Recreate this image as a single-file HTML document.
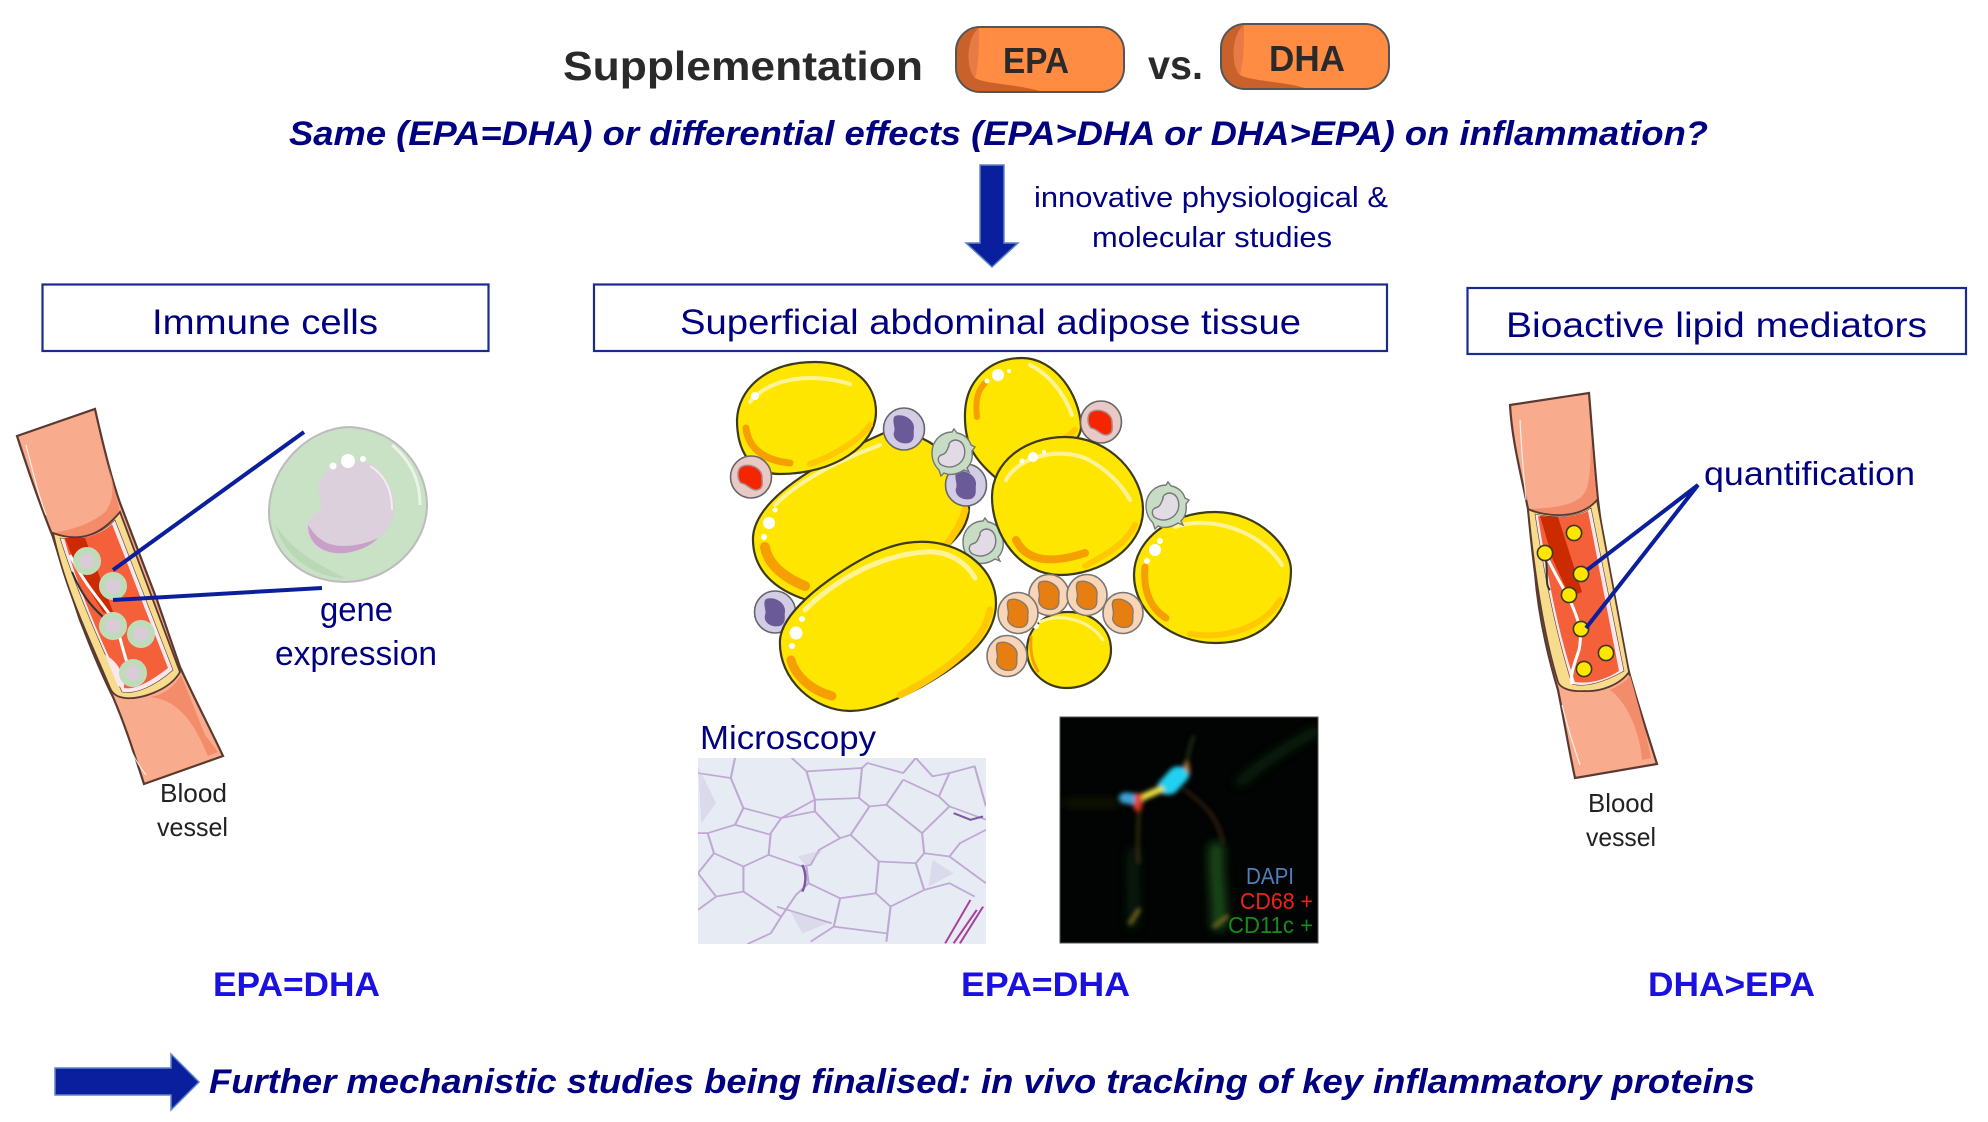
<!DOCTYPE html>
<html lang="en">
<head>
<meta charset="utf-8">
<title>Supplementation EPA vs. DHA</title>
<style>
html,body{margin:0;padding:0;background:#fff;width:1988px;height:1122px;overflow:hidden}
svg{display:block}
text{font-family:"Liberation Sans",sans-serif}
.n{fill:#000080}
.b{font-weight:bold}
.bi{font-weight:bold;font-style:italic;fill:#000080}
.k{fill:#222}
.ye{fill:#ffe600;stroke:#3c3a18;stroke-width:2.2}
.or{fill:none;stroke:#f59f00;stroke-linecap:round}
.dk{fill:none;stroke:#ffc800;stroke-linecap:round}
.hi{fill:none;stroke:#fff39a;stroke-linecap:round}
.w{fill:#fff}
</style>
</head>
<body>
<svg xmlns="http://www.w3.org/2000/svg" width="1988" height="1122" viewBox="0 0 1988 1122">
<defs>
  <filter id="bl" x="-80%" y="-80%" width="260%" height="260%"><feGaussianBlur stdDeviation="6"/></filter>
  <filter id="bl2" x="-80%" y="-80%" width="260%" height="260%"><feGaussianBlur stdDeviation="14"/></filter>
  <g id="pur"><ellipse rx="20.5" ry="21" fill="#d2cde5" stroke="#666" stroke-width="1.6"/><path d="M-9,-13 C0,-16 11,-9 10,0 C9,4 12,11 5,14 C-4,16 -12,10 -10,3 C-8,-1 -13,-9 -9,-13Z" fill="#6b5a98"/></g>
  <g id="red"><ellipse rx="20.5" ry="21" fill="#e9c9c5" stroke="#666" stroke-width="1.6"/><path d="M-10,-10 C-2,-15 11,-9 11,0 C11,6 13,12 5,13 C-1,13 -3,7 -10,6 C-14,2 -14,-7 -10,-10Z" fill="#f52500" stroke="#a88" stroke-width="1.5"/></g>
  <g id="org"><ellipse rx="20" ry="20.5" fill="#f9d5b8" stroke="#777" stroke-width="1.6"/><path d="M-9,-13 C0,-16 11,-9 10,0 C9,4 12,11 5,14 C-4,16 -12,10 -10,3 C-8,-1 -13,-9 -9,-13Z" fill="#e77e12" stroke="#8a7a6a" stroke-width="1.4"/></g>
  <g id="grn"><path d="M-20,0 C-20,-13 -10,-21 0,-21 L2,-24 L5,-20 C12,-19 17,-14 19,-8 L23,-6 L20,-2 C21,5 19,11 15,15 L17,19 L12,17 C6,21 -2,23 -8,20 L-11,23 L-13,17 C-17,13 -20,7 -20,0Z" fill="#c6dcc5" stroke="#777" stroke-width="1.4"/><path d="M4,-13 C12,-12 14,-3 12,4 C9,12 0,16 -8,13 C-15,11 -15,4 -11,2 C-5,1 -5,-4 -3,-7 C-4,-10 0,-13 4,-13Z" fill="#e2dbe6" stroke="#777" stroke-width="1.4"/></g>
  <g id="cell"><circle r="13.5" fill="#bfdcb8" stroke="#c8d8c0" stroke-width="1"/><circle r="7.5" fill="#d9ccd8"/></g>
  <g id="dot"><circle r="7.6" fill="#ffe600" stroke="#3c3a18" stroke-width="1.6"/></g>
</defs>

<rect width="1988" height="1122" fill="#fff"/>

<!-- header -->
<text x="563" y="80" font-size="41" class="b" fill="#2a2a2a" textLength="360" lengthAdjust="spacingAndGlyphs">Supplementation</text>
<rect x="956" y="27" width="168" height="65" rx="24" fill="#ff8c42"/>
<rect x="1221" y="24" width="168" height="65" rx="24" fill="#ff8c42"/>
<path d="M979,28 C962,30 956,40 956,55 V65 C956,82 965,91 980,91 C1000,92 1020,92 1040,91 C1015,84 985,84 975,78 C966,70 966,38 979,28Z" fill="#c9622a"/>
<path d="M979,28 C966,38 966,70 975,78 C979,65 979,42 979,28Z" fill="#e87a48"/>
<path d="M1244,25 C1227,27 1221,37 1221,52 V62 C1221,79 1230,88 1245,88 C1265,89 1285,89 1305,88 C1280,81 1250,81 1240,75 C1231,67 1231,35 1244,25Z" fill="#c9622a"/>
<path d="M1244,25 C1231,35 1231,67 1240,75 C1244,62 1244,39 1244,25Z" fill="#e87a48"/>
<rect x="956" y="27" width="168" height="65" rx="24" fill="none" stroke="#555" stroke-width="2"/>
<rect x="1221" y="24" width="168" height="65" rx="24" fill="none" stroke="#555" stroke-width="2"/>
<text x="1003" y="73" font-size="36" class="b" fill="#2a2a2a" textLength="66" lengthAdjust="spacingAndGlyphs">EPA</text>
<text x="1269" y="71" font-size="36" class="b" fill="#2a2a2a" textLength="76" lengthAdjust="spacingAndGlyphs">DHA</text>
<text x="1148" y="79" font-size="41" class="b" fill="#2a2a2a" textLength="55" lengthAdjust="spacingAndGlyphs">vs.</text>

<text x="289" y="145" font-size="34" class="bi" textLength="1419" lengthAdjust="spacingAndGlyphs">Same (EPA=DHA) or differential effects (EPA&gt;DHA or DHA&gt;EPA) on inflammation?</text>

<path d="M980,165 H1004 V243 H1018 L992,267 L966,243 H980Z" fill="#0a1f9e" stroke="#5f86c4" stroke-width="1.5"/>
<text x="1034" y="207" font-size="29" class="n" textLength="354" lengthAdjust="spacingAndGlyphs">innovative physiological &amp;</text>
<text x="1092" y="247" font-size="29" class="n" textLength="240" lengthAdjust="spacingAndGlyphs">molecular studies</text>

<!-- title boxes -->
<g fill="none" stroke="#1a2a90" stroke-width="2.2">
  <rect x="42.5" y="284.5" width="446" height="66.5"/>
  <rect x="594" y="284.5" width="793" height="66.5"/>
  <rect x="1467.5" y="288" width="498.5" height="66"/>
</g>
<text x="152" y="334" font-size="35" class="n" textLength="226" lengthAdjust="spacingAndGlyphs">Immune cells</text>
<text x="680" y="334" font-size="35" class="n" textLength="621" lengthAdjust="spacingAndGlyphs">Superficial abdominal adipose tissue</text>
<text x="1506" y="337" font-size="35" class="n" textLength="421" lengthAdjust="spacingAndGlyphs">Bioactive lipid mediators</text>

<!-- left vessel -->
<path d="M17,436 L95,409 C103,445 112,480 120,503 L157,600 L180,667 C195,700 210,728 223,756 L144,784 C133,750 125,725 113,697 C97,665 88,640 80,620 C70,590 60,560 53,537 C40,505 28,470 17,436Z" fill="#f9ab8e" stroke="#5a3a30" stroke-width="2.2"/>
<path d="M53,533 C85,545 110,530 120,512 L100,430 C112,480 118,495 105,512 C90,525 70,530 53,533Z" fill="#f28c6a"/>
<path d="M150,697 C165,695 175,685 181,675 L205,735 L218,752 L208,756 C195,725 180,700 150,697Z" fill="#f28c6a"/>
<path d="M53,533 C85,545 105,530 120,512 L180,672 C170,690 140,700 125,698 C118,697 113,695 110,688 C90,640 65,590 53,533Z" fill="#f6dc8c" stroke="#5a3a30" stroke-width="1.8"/>
<path d="M60,538 C80,541 100,535 115,520 L173,670 C155,686 135,695 122,692 C103,650 78,595 60,538Z" fill="#fbe8ee" stroke="#5a3a30" stroke-width=".6"/>
<path d="M64,538 C80,541 100,535 112,524 L168,668 C150,682 135,690 124,688 C105,650 80,595 64,538Z" fill="#f4603a"/>
<path d="M65,538 L85,538 L115,617 L103,612 L78,572Z" fill="#cc2a00"/>
<path d="M70,555 C85,585 100,600 110,615 C120,630 122,650 128,665" fill="none" stroke="#fff" stroke-width="3"/>
<path d="M72,572 C82,595 90,605 103,617" fill="none" stroke="#333" stroke-width="2"/>
<path d="M105,655 L118,686 L124,688 C125,675 117,660 105,655" fill="#fbe8ee"/>
<use href="#cell" x="87" y="561"/><use href="#cell" x="113" y="586"/><use href="#cell" x="113" y="626"/><use href="#cell" x="141" y="634"/><use href="#cell" x="133" y="673"/>
<path d="M26,445 C35,480 40,500 46,515" fill="none" stroke="#fff" stroke-width="1.2" opacity=".8"/>
<path d="M118,725 C130,750 138,765 146,775" fill="none" stroke="#fff" stroke-width="1.2" opacity=".8"/>
<line x1="113" y1="570" x2="304" y2="432" stroke="#0b1f9c" stroke-width="4"/>
<line x1="113" y1="600" x2="322" y2="588" stroke="#0b1f9c" stroke-width="4"/>

<!-- big immune cell -->
<path d="M269,510 C270,465 310,427 350,427 C400,430 427,470 427,505 C427,545 390,582 345,582 C300,582 268,550 269,510Z" fill="#c9e1c5" stroke="#bcbcbc" stroke-width="2"/>
<path d="M276,525 C282,555 315,578 345,578 C320,565 290,550 276,525Z" fill="#bad8b6"/>
<path d="M392,445 C410,460 420,480 420,505" fill="none" stroke="#eaf4e6" stroke-width="3"/>
<path d="M322,477 C328,465 345,461 363,462 C380,465 393,485 395,507 C395,520 388,530 380,537 C368,546 358,552 347,553 C330,555 312,552 307,530 C305,515 325,510 322,507 C318,495 318,485 322,477Z" fill="#dcd0dc"/>
<path d="M308,525 C308,545 325,555 345,553 C360,551 372,545 378,538 C362,546 335,550 322,540 C314,535 312,530 308,525Z" fill="#c9a0c8"/>
<path d="M370,466 C385,475 392,490 392,510" fill="none" stroke="#f3ecf3" stroke-width="2"/>
<circle cx="348" cy="461" r="7" class="w"/><circle cx="333" cy="466" r="3.5" class="w"/><circle cx="363" cy="459" r="3" class="w"/>

<text x="320" y="621" font-size="34" class="n" textLength="73" lengthAdjust="spacingAndGlyphs">gene</text>
<text x="275" y="665" font-size="34" class="n" textLength="162" lengthAdjust="spacingAndGlyphs">expression</text>
<text x="160" y="802" font-size="26" class="k" textLength="67" lengthAdjust="spacingAndGlyphs">Blood</text>
<text x="157" y="836" font-size="26" class="k" textLength="71" lengthAdjust="spacingAndGlyphs">vessel</text>

<!-- adipose cluster -->
<path d="M965,413 C966,380 990,358 1022,358 C1055,358 1080,395 1081,427 C1081,450 1030,470 996,478 C975,460 964,445 965,413Z" class="ye"/>
<path d="M977,417 C975,400 978,390 985,383" class="or" stroke-width="6"/>
<path d="M1075,430 C1060,445 1030,455 1000,470" class="dk" stroke-width="6"/>
<path d="M1030,365 C1050,375 1065,395 1072,415" class="hi" stroke-width="4"/>
<circle cx="998" cy="375" r="6" class="w"/><circle cx="987" cy="381" r="2.5" class="w"/><circle cx="1009" cy="371" r="2" class="w"/>

<path d="M753,537 C755,505 800,470 884,433 C925,425 969,465 969,507 C969,540 930,560 900,575 L807,600 C775,590 752,570 753,537Z" class="ye"/>
<path d="M765,547 C768,565 785,578 805,586" class="or" stroke-width="10"/>
<path d="M775,505 C800,480 840,460 880,445" class="hi" stroke-width="4"/>
<path d="M965,510 C960,530 940,555 925,565" class="dk" stroke-width="7"/>
<circle cx="769" cy="523" r="6" class="w"/><circle cx="764" cy="537" r="3" class="w"/><circle cx="775" cy="510" r="2.5" class="w"/>

<use href="#pur" x="904" y="429"/>
<use href="#pur" x="966" y="485"/>
<use href="#grn" x="952" y="453"/>
<use href="#pur" x="775" y="612"/>
<use href="#grn" x="983" y="542"/>
<use href="#red" x="1101" y="422"/>

<path d="M737,420 C738,390 765,362 815,362 C855,362 876,385 876,412 C876,445 835,474 780,474 C750,474 737,450 737,420Z" class="ye"/>
<path d="M746,428 C748,445 760,460 790,463" class="or" stroke-width="7"/>
<path d="M750,402 C770,378 810,372 850,384" class="hi" stroke-width="4"/>
<path d="M870,425 C860,440 835,455 810,464" class="dk" stroke-width="6"/>
<circle cx="755" cy="396" r="4" class="w"/>

<path d="M780,640 C782,610 835,572 874,553 C900,542 915,541 929,542 C965,545 996,570 996,603 C996,640 960,665 921,687 C890,703 870,711 850,711 C815,711 778,680 780,640Z" class="ye"/>
<path d="M791,660 C795,675 810,690 832,696" class="or" stroke-width="9"/>
<path d="M805,610 C835,580 880,555 925,552 C950,550 968,565 975,578" class="hi" stroke-width="5"/>
<path d="M990,610 C985,640 950,670 900,695" class="dk" stroke-width="7"/>
<circle cx="796" cy="633" r="6.5" class="w"/><circle cx="792" cy="646" r="3" class="w"/><circle cx="802" cy="619" r="3" class="w"/>

<path d="M992,497 C992,462 1025,437 1065,437 C1110,437 1143,475 1143,510 C1143,548 1100,575 1060,575 C1020,575 992,535 992,497Z" class="ye"/>
<path d="M1016,540 C1025,558 1045,566 1085,553" class="or" stroke-width="8"/>
<path d="M1006,480 C1020,455 1060,448 1085,458 C1110,470 1125,490 1130,500" class="hi" stroke-width="4"/>
<path d="M1135,525 C1125,545 1105,555 1085,566" class="dk" stroke-width="6"/>
<circle cx="1033" cy="457" r="5" class="w"/><circle cx="1022" cy="461" r="2.5" class="w"/><circle cx="1044" cy="452" r="2" class="w"/>

<path d="M1134,575 C1134,540 1170,512 1215,512 C1260,512 1291,548 1291,570 C1291,610 1265,643 1215,643 C1175,643 1134,615 1134,575Z" class="ye"/>
<path d="M1145,567 C1143,590 1150,608 1166,618" class="or" stroke-width="7"/>
<path d="M1175,527 C1210,515 1260,530 1282,565" class="hi" stroke-width="4"/>
<path d="M1190,634 C1230,640 1265,625 1280,600" class="dk" stroke-width="6"/>
<circle cx="1155" cy="550" r="6" class="w"/><circle cx="1147" cy="561" r="3" class="w"/><circle cx="1160" cy="541" r="3" class="w"/>

<path d="M1027,650 C1027,628 1045,612 1068,612 C1095,612 1111,630 1111,650 C1111,672 1090,688 1066,688 C1045,688 1026,670 1027,650Z" class="ye"/>
<path d="M1031,637 C1030,650 1032,662 1038,671" class="or" stroke-width="3"/>
<path d="M1040,622 C1060,612 1090,620 1103,640" class="hi" stroke-width="3"/>
<circle cx="1036" cy="626" r="3" class="w"/>

<use href="#red" x="751" y="477"/>
<use href="#grn" x="1166" y="506"/>
<use href="#org" x="1049" y="595"/><use href="#org" x="1087" y="595"/><use href="#org" x="1018" y="613"/><use href="#org" x="1123" y="613"/><use href="#org" x="1007" y="656"/>

<!-- microscopy -->
<text x="700" y="749" font-size="33" class="n" textLength="176" lengthAdjust="spacingAndGlyphs">Microscopy</text>
<rect x="698" y="758" width="288" height="186" fill="#e6ebf4"/>
<svg x="698" y="758" width="288" height="186" viewBox="42 145 685 557" preserveAspectRatio="none">
  <g fill="none" stroke="#bfa8d2" stroke-width="5" stroke-linejoin="round">
    <polyline points="130,145 120,205 150,295 240,325 320,270 300,185 265,145"/>
    <polyline points="120,205 42,190"/>
    <polyline points="150,295 130,345 65,370 42,370"/>
    <polyline points="300,185 432,175 425,265 320,270"/>
    <polyline points="432,175 445,160 530,190 560,145"/>
    <polyline points="425,265 450,290 490,285 530,210"/>
    <polyline points="320,270 320,305 240,325"/>
    <polyline points="320,305 380,385 405,375 450,290"/>
    <polyline points="240,325 215,370 210,435 150,470 80,430 65,370"/>
    <polyline points="130,345 215,375"/>
    <polyline points="380,385 330,420 310,465 290,470 210,435"/>
    <polyline points="405,375 472,455 465,550 380,565 305,520 300,470"/>
    <polyline points="490,285 575,370 580,430 560,460 472,455"/>
    <polyline points="575,370 640,290 615,260 530,210"/>
    <polyline points="580,430 640,440 665,400 727,360"/>
    <polyline points="150,470 150,545 85,560 42,490 80,430"/>
    <polyline points="150,545 240,620 215,670 160,702"/>
    <polyline points="85,560 42,600"/>
    <polyline points="240,620 275,555 305,520"/>
    <polyline points="380,565 365,650 310,695"/>
    <polyline points="560,460 580,540 500,590 465,550"/>
    <polyline points="500,590 490,695"/>
    <polyline points="640,440 727,520"/>
    <polyline points="580,540 640,520 700,560"/>
    <polyline points="615,260 640,190 700,170 727,290"/>
    <polyline points="560,145 600,200 640,190"/>
    <polyline points="640,290 727,330"/>
    <polyline points="230,590 360,640"/>
    <polyline points="365,650 490,670"/>
  </g>
  <path d="M42,170 L85,280 L50,340Z M600,450 L650,490 L590,530Z M260,600 L350,640 L290,670Z M340,420 L300,470 L280,440Z" fill="#cfc6de" opacity=".45"/>
  <g fill="none" stroke="#7c5aa0" stroke-width="6">
    <path d="M290,465 C300,490 300,520 290,545"/>
    <path d="M650,310 L690,330 L720,320"/>
  </g>
  <g fill="none" stroke="#a8409a" stroke-width="5">
    <path d="M690,570 L630,700"/><path d="M720,590 L665,700"/><path d="M705,600 L650,700"/>
  </g>
</svg>

<!-- fluorescence -->
<rect x="1060" y="717" width="258" height="226" fill="#020403" stroke="#555" stroke-width="1"/>
<svg x="1060" y="717" width="258" height="226" viewBox="903 22 613 678" preserveAspectRatio="none">
  <g filter="url(#bl2)" fill="none" stroke-linecap="round">
    <path d="M1275,410 C1270,500 1285,580 1280,650" stroke="#2a7a2a" stroke-width="26" opacity=".8"/>
    <path d="M1080,420 C1070,500 1085,580 1075,650" stroke="#1e4a24" stroke-width="14" opacity=".7"/>
    <path d="M1330,220 C1400,140 1460,100 1516,60" stroke="#174a1c" stroke-width="16" opacity=".7"/>
    <path d="M920,280 L1040,280" stroke="#3a4a18" stroke-width="12" opacity=".6"/>
  </g>
  <g filter="url(#bl)" fill="none" stroke-linecap="round">
    <path d="M1090,300 C1090,360 1085,400 1090,460" stroke="#4a3a18" stroke-width="6"/>
    <path d="M1200,240 C1240,280 1280,320 1290,400" stroke="#4a2a14" stroke-width="6"/>
    <path d="M1205,160 C1208,120 1215,100 1220,80" stroke="#304a20" stroke-width="5"/>
    <path d="M1070,640 L1090,600 M1270,650 L1300,620" stroke="#7a6a20" stroke-width="10"/>
    <path d="M1060,265 L1085,270" stroke="#3aa0d8" stroke-width="34"/>
    <path d="M1160,230 L1185,195" stroke="#24d0f0" stroke-width="50"/>
    <path d="M1095,265 L1140,240" stroke="#e8e040" stroke-width="20"/>
    <path d="M1090,260 L1088,295" stroke="#e83818" stroke-width="18"/>
    <path d="M1203,160 L1207,185" stroke="#c08030" stroke-width="10"/>
  </g>
</svg>
<text x="1246" y="884" font-size="23" fill="#4f7fbd" textLength="48" lengthAdjust="spacingAndGlyphs">DAPI</text>
<text x="1240" y="909" font-size="23" fill="#ee2418" textLength="73" lengthAdjust="spacingAndGlyphs">CD68 +</text>
<text x="1228" y="933" font-size="23" fill="#1a8a1a" textLength="85" lengthAdjust="spacingAndGlyphs">CD11c +</text>

<!-- right vessel -->
<path d="M1510,405 L1589,393 C1592,430 1595,470 1598,500 C1605,560 1617,620 1629,672 C1638,705 1648,735 1657,764 L1575,778 C1568,745 1565,725 1558,690 C1546,650 1538,610 1535,573 C1532,550 1530,530 1528,509 C1520,470 1512,440 1510,405Z" fill="#f9ab8e" stroke="#5a3a30" stroke-width="2.2"/>
<path d="M1528,509 C1560,520 1585,515 1597,500 L1591,440 C1590,475 1590,490 1580,498 C1565,508 1545,508 1528,509Z" fill="#f28c6a"/>
<path d="M1610,690 C1620,685 1628,680 1630,675 L1645,730 L1651,758 L1642,760 C1640,730 1625,700 1610,690Z" fill="#f28c6a"/>
<path d="M1528,509 C1545,517 1580,520 1597,500 L1629,672 C1620,685 1600,692 1585,691 C1570,692 1560,688 1558,682 C1545,640 1535,580 1528,509Z" fill="#f6dc8c" stroke="#5a3a30" stroke-width="1.8"/>
<path d="M1535,514 C1550,518 1578,518 1591,508 L1624,671 C1605,682 1585,688 1572,684 C1558,640 1545,580 1535,514Z" fill="#fbe8ee" stroke="#5a3a30" stroke-width=".6"/>
<path d="M1538,516 C1550,518 1575,518 1588,511 L1619,671 C1605,680 1590,684 1575,682 C1560,640 1548,580 1538,516Z" fill="#f4603a"/>
<path d="M1540,516 L1558,517 L1582,592 L1570,597 L1553,560Z" fill="#cc2a00"/>
<path d="M1545,553 C1555,575 1565,590 1572,605 C1578,620 1583,630 1579,650 C1574,665 1570,675 1572,684" fill="none" stroke="#fff" stroke-width="3"/>
<path d="M1546,560 C1548,575 1545,585 1550,590" fill="none" stroke="#333" stroke-width="2"/>
<use href="#dot" x="1574" y="533"/><use href="#dot" x="1545" y="553"/><use href="#dot" x="1581" y="574"/><use href="#dot" x="1569" y="595"/><use href="#dot" x="1581" y="629"/><use href="#dot" x="1606" y="653"/><use href="#dot" x="1584" y="669"/>
<path d="M1520,420 C1522,460 1524,480 1526,500" fill="none" stroke="#fff" stroke-width="1.2" opacity=".8"/>
<path d="M1562,705 C1568,730 1575,750 1580,765" fill="none" stroke="#fff" stroke-width="1.2" opacity=".8"/>
<path d="M1587,570 L1698,485 L1586,628" fill="none" stroke="#0b1f9c" stroke-width="4" stroke-linejoin="miter"/>
<text x="1704" y="485" font-size="33" class="n" textLength="211" lengthAdjust="spacingAndGlyphs">quantification</text>
<text x="1588" y="812" font-size="26" class="k" textLength="66" lengthAdjust="spacingAndGlyphs">Blood</text>
<text x="1586" y="846" font-size="26" class="k" textLength="70" lengthAdjust="spacingAndGlyphs">vessel</text>

<!-- results -->
<g class="b" font-size="34" fill="#1a10e0">
  <text x="213" y="996" textLength="167" lengthAdjust="spacingAndGlyphs">EPA=DHA</text>
  <text x="961" y="996" textLength="169" lengthAdjust="spacingAndGlyphs">EPA=DHA</text>
  <text x="1648" y="996" textLength="167" lengthAdjust="spacingAndGlyphs">DHA&gt;EPA</text>
</g>

<!-- bottom arrow + text -->
<path d="M55,1068 H171 V1054 L199,1082 L171,1110 V1095 H55Z" fill="#0a1f9e" stroke="#5f86c4" stroke-width="1.5"/>
<text x="209" y="1093" font-size="34" class="bi" textLength="1546" lengthAdjust="spacingAndGlyphs">Further mechanistic studies being finalised: in vivo tracking of key inflammatory proteins</text>
</svg>
</body>
</html>
